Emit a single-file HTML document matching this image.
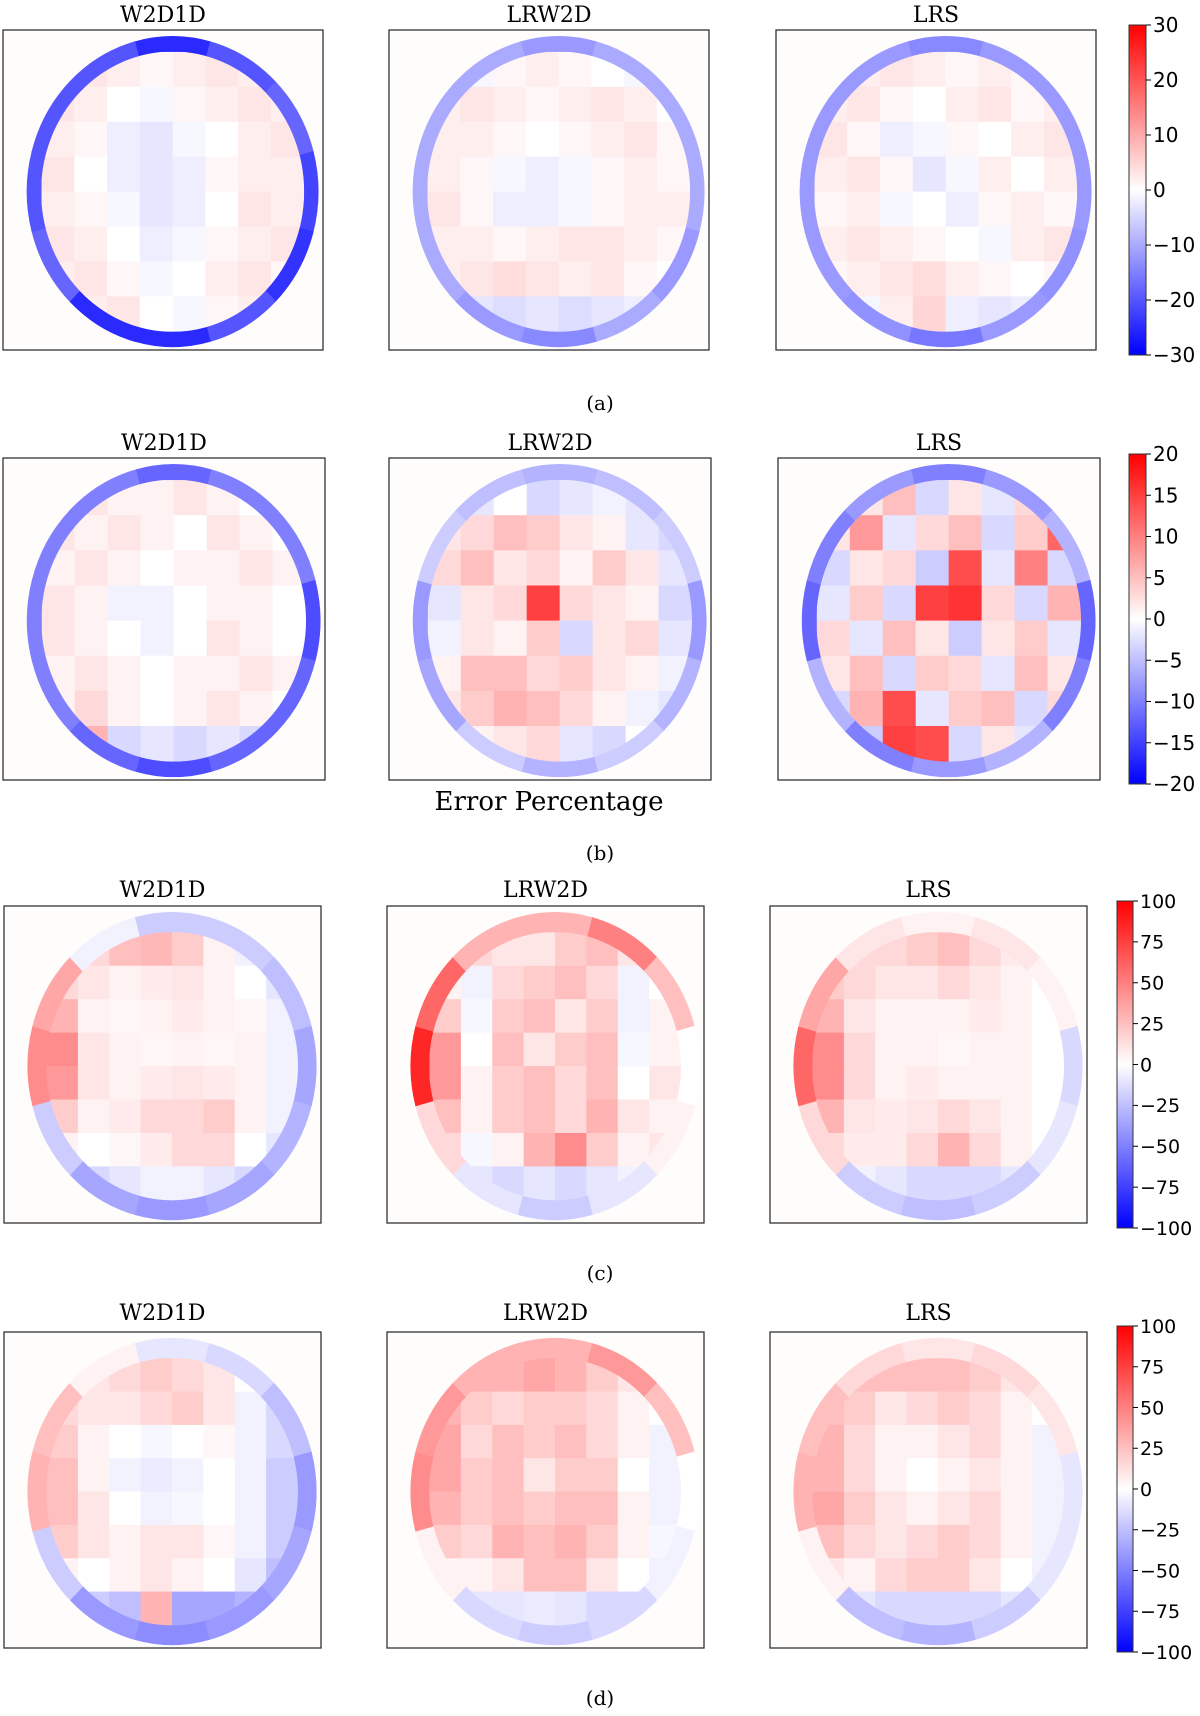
<!DOCTYPE html>
<html><head><meta charset="utf-8"><style>
html,body{margin:0;padding:0;background:#fff;}
svg{display:block;}
.t{font-family:"DejaVu Serif","Liberation Serif",serif;fill:#000;}
.k{font-family:"DejaVu Sans","Liberation Sans",sans-serif;fill:#000;}
</style></head><body>
<svg id="fig" width="1200" height="1716" viewBox="0 0 1200 1716" xmlns="http://www.w3.org/2000/svg"></svg>
<script>
// ---- data (values in % error). rim: 12 angles clockwise from top; interior: 8x8 grid ----
const titles = ["W2D1D","LRW2D","LRS"];
const rowLimits = [30,20,100,100];
const tickA = [30,20,10,0,-10,-20,-30];
const tickB = [20,15,10,5,0,-5,-10,-15,-20];
const tickC = [100,75,50,25,0,-25,-50,-75,-100];
const tickD = [100,75,50,25,0,-25,-50,-75,-100];
const captions = ["(a)","(b)","(c)","(d)"];

const rimA1 = [-25,-20,-18,-22,-24,-20,-25,-25,-18,-20,-20,-20];
const gridA1 = [[2,3,2,1,2,3,2,1],[3,2,0,-1,1,2,3,2],[2,1,-2,-3,-1,0,2,3],[3,0,-2,-3,-2,1,2,2],[2,1,-1,-3,-2,0,3,2],[3,2,0,-2,-1,1,2,3],[2,3,1,-1,0,2,3,1],[1,2,3,0,-1,1,2,0]];
const rimA2 = [-12,-10,-10,-10,-12,-10,-14,-12,-10,-10,-10,-10];
const gridA2 = [[0,-1,1,2,1,0,-1,-2],[2,3,2,1,2,3,2,0],[2,2,1,0,1,2,3,1],[2,1,-1,-2,-1,1,2,1],[3,1,-2,-2,-1,1,2,2],[2,2,1,2,3,3,2,1],[2,3,4,3,2,3,1,0],[-2,-3,-4,-3,-4,-3,-2,-3]];
const rimA3 = [-14,-12,-12,-12,-13,-12,-16,-13,-12,-12,-12,-12];
const gridA3 = [[1,2,3,2,1,2,1,0],[2,3,1,0,2,3,1,2],[3,1,-2,-1,1,0,2,3],[2,3,1,-3,-1,2,0,2],[1,2,-1,0,-2,1,2,1],[2,3,2,1,0,-1,2,3],[1,2,3,4,2,1,0,1],[-2,-1,2,5,-2,-3,-2,-4]];

const rimB1 = [-12,-10,-10,-14,-12,-12,-14,-12,-10,-10,-10,-10];
const gridB1 = [[1,2,1,1,2,1,0,-1],[2,1,2,1,0,2,1,0],[1,2,1,0,1,1,2,1],[2,1,-1,-1,0,1,1,0],[2,1,0,-1,0,2,1,0],[1,2,1,0,1,1,2,1],[1,3,1,0,1,2,1,0],[-2,6,-3,-2,-3,-2,-3,-3]];
const rimB2 = [-6,-5,-4,-8,-6,-4,-6,-4,-7,-8,-4,-5];
const gridB2 = [[-3,-2,0,-3,-2,-1,-2,-4],[2,3,5,4,2,1,-2,-3],[3,5,2,3,1,4,2,-2],[-2,2,3,15,3,2,1,-3],[-1,2,1,4,-3,2,3,-2],[1,5,5,3,4,2,1,-1],[2,4,6,5,3,1,-1,-2],[-2,1,2,3,-2,-3,0,-2]];
const rimB3 = [-10,-8,-6,-12,-10,-6,-8,-10,-6,-12,-10,-8];
const gridB3 = [[-4,2,5,-3,2,-2,3,-5],[2,8,-2,3,5,-3,4,12],[-3,2,3,-4,14,-2,10,-3],[-2,4,-3,15,16,3,-3,6],[3,-2,5,2,-4,2,4,-2],[2,5,-3,4,3,-2,5,2],[-3,6,14,-2,4,5,-3,3],[2,-4,15,14,-3,2,-2,-4]];

const rimC1 = [-20,-20,-25,-35,-30,-35,-40,-35,-20,45,35,-5];
const gridC1 = [[5,15,25,28,20,5,-5,-10],[15,10,5,8,10,5,0,-10],[30,5,3,5,8,5,3,-5],[45,10,5,3,5,3,5,-5],[40,10,5,8,10,8,5,-5],[20,5,8,15,15,20,5,-5],[5,0,3,8,15,15,0,-10],[-10,-15,-10,-5,-5,-10,-15,-20]];
const rimC2 = [30,50,25,0,5,-10,-20,-10,15,85,60,30];
const gridC2 = [[10,15,10,10,20,25,10,0],[5,-5,15,20,25,15,-5,0],[20,-3,20,25,10,20,-5,5],[40,0,25,10,20,25,-3,5],[40,5,20,25,15,25,0,10],[25,5,20,25,15,30,10,5],[15,-3,5,30,45,20,5,10],[0,-10,-15,-10,-15,-10,-5,0]];
const rimC3 = [5,10,5,-15,-10,-20,-25,-20,15,60,35,10];
const gridC3 = [[10,15,15,20,25,15,8,0],[20,15,10,10,15,10,5,0],[30,10,5,5,5,8,5,0],[45,15,5,5,3,5,5,0],[45,15,5,8,5,5,5,0],[30,10,8,10,15,10,5,0],[15,8,8,15,30,15,5,0],[0,-5,-10,-15,-15,-15,-10,-5]];

const rimD1 = [-10,-15,-25,-40,-35,-40,-45,-40,-20,30,25,5];
const gridD1 = [[5,10,15,20,15,10,0,-10],[15,10,10,15,20,10,-5,-15],[20,5,0,-3,0,3,-5,-15],[25,5,-5,-8,-5,0,-5,-20],[25,10,0,-5,-3,0,-5,-20],[20,10,5,10,10,3,-5,-20],[5,0,5,10,5,0,-10,-25],[-15,-20,-25,30,-35,-35,-30,-30]];
const rimD2 = [30,40,25,0,-5,-15,-20,-15,5,45,40,30];
const gridD2 = [[25,30,30,35,30,20,10,5],[30,20,15,20,20,15,5,0],[35,15,25,20,25,15,5,-5],[35,20,25,10,20,20,0,-5],[30,20,25,20,25,25,5,-5],[20,15,30,25,30,20,5,-3],[5,5,10,25,25,10,0,-5],[-5,-10,-10,-8,-10,-15,-15,-10]];
const rimD3 = [10,15,10,-10,-10,-20,-30,-25,5,30,25,15];
const gridD3 = [[20,25,25,25,25,20,10,5],[25,20,10,15,20,15,5,0],[30,15,5,5,10,15,5,-5],[30,15,5,0,5,10,5,-5],[35,20,10,5,10,15,5,-5],[25,15,10,15,20,15,5,-5],[10,5,15,20,20,10,0,-5],[-5,-10,-15,-15,-15,-15,-10,-5]];

const rims = [[rimA1,rimA2,rimA3],[rimB1,rimB2,rimB3],[rimC1,rimC2,rimC3],[rimD1,rimD2,rimD3]];
const grids = [[gridA1,gridA2,gridA3],[gridB1,gridB2,gridB3],[gridC1,gridC2,gridC3],[gridD1,gridD2,gridD3]];
const ticks = [tickA,tickB,tickC,tickD];

// ---- layout ----
const NS="http://www.w3.org/2000/svg";
const svg=document.getElementById('fig');
const rowsLayout=[
 {y:30,h:320,xs:[3,389,776],w:320,cb:{x:1129,w:17,y:25,h:330},fs:20,ty:22,cap:410},
 {y:458,h:322,xs:[3,389,778],w:322,cb:{x:1129,w:17,y:454,h:330},fs:20,ty:450,cap:860},
 {y:906,h:317,xs:[4,387,770],w:317,cb:{x:1117,w:16,y:901,h:327},fs:19,ty:897,cap:1280},
 {y:1332,h:316,xs:[4,387,770],w:317,cb:{x:1117,w:16,y:1326,h:326},fs:19,ty:1320,cap:1705}
];
function el(tag,attrs,parent){const e=document.createElementNS(NS,tag);for(const k in attrs)e.setAttribute(k,attrs[k]);(parent||svg).appendChild(e);return e;}
function bwr(v,lim){let t=Math.max(-1,Math.min(1,v/lim));let r,g,b;
 if(t<0){r=g=Math.round(255*(1+t));b=255;}else{r=255;g=b=Math.round(255*(1-t));}
 return `rgb(${r},${g},${b})`;}

rowsLayout.forEach((L,ri)=>{
 const lim=rowLimits[ri];
 const ringFrac = ri<2?0.1:0.13;
 L.xs.forEach((bx,ci)=>{
  const g=el('g',{});
  
  
  const bg=el('rect',{x:bx,y:L.y,width:L.w,height:L.h,fill:'#fffcfc'},g);
  
  
  const cx=bx+L.w*0.53, cy=L.y+L.h*0.505, rx=L.w*0.455, ry=L.h*0.485;
  const irx=rx*(1-ringFrac), iry=ry*(1-ringFrac);
  const rim=rims[ri][ci];
  const n=rim.length;
  rim.forEach((v,i)=>{
   const a0=(i-0.5)*2*Math.PI/n, a1=(i+0.5)*2*Math.PI/n;
   const P=(a,sx,sy)=>[cx+sx*Math.sin(a),cy-sy*Math.cos(a)];
   const p1=P(a0,rx,ry),p2=P(a1,rx,ry),p3=P(a1,irx,iry),p4=P(a0,irx,iry);
   const w=el('path',{d:`M${p1}A${rx},${ry} 0 0 1 ${p2}L${p3}A${irx},${iry} 0 0 0 ${p4}Z`,fill:bwr(v,lim),stroke:bwr(v,lim),'stroke-width':0.6},g);
   
   
  });
  const cid='clip'+ri+ci;
  const cp=el('clipPath',{id:cid},g);
  el('ellipse',{cx:cx,cy:cy,rx:irx+0.5,ry:iry+0.5},cp);
  const gi=el('g',{'clip-path':`url(#${cid})`},g);
  const grid=grids[ri][ci];
  const nr=grid.length,nc=grid[0].length;
  const cw=2*irx/nc, ch=2*iry/nr;
  grid.forEach((row,r)=>row.forEach((v,c)=>{
   const cell=el('rect',{x:cx-irx+c*cw,y:cy-iry+r*ch,width:cw+0.6,height:ch+0.6,fill:bwr(v,lim)},gi);
   
   
  }));
  const fr=el('rect',{x:bx,y:L.y,width:L.w,height:L.h,fill:'none',stroke:'#333','stroke-width':1.3},g);
  
  
  const tt=el('text',{x:bx+L.w/2,y:L.ty,'text-anchor':'middle','font-size':22,class:'t'},svg);
  tt.textContent=titles[ci];
  
  
 });
 const cb=L.cb;
 const gid='grad'+ri;
 const defs=el('defs',{});
 const lg=el('linearGradient',{id:gid,x1:0,y1:0,x2:0,y2:1},defs);
 el('stop',{offset:'0','stop-color':'rgb(255,0,0)'},lg);
 el('stop',{offset:'0.5','stop-color':'rgb(255,255,255)'},lg);
 el('stop',{offset:'1','stop-color':'rgb(0,0,255)'},lg);
 const bar=el('rect',{x:cb.x,y:cb.y,width:cb.w,height:cb.h,fill:`url(#${gid})`,stroke:'#333','stroke-width':1});
 
 
 const tk=ticks[ri];
 tk.forEach(v=>{
  const y=cb.y+(lim-v)/(2*lim)*cb.h;
  el('line',{x1:cb.x+cb.w,x2:cb.x+cb.w+5,y1:y,y2:y,stroke:'#000','stroke-width':1});
  const t=el('text',{x:cb.x+cb.w+7,y:y+L.fs*0.36,'font-size':L.fs,class:'k'});
  t.textContent=(v<0?'\u2212'+(-v):String(v));
  
  
 });
 const cap=el('text',{x:600,y:L.cap,'text-anchor':'middle','font-size':20,class:'t'});
 cap.textContent=captions[ri];
 
 
});
const xl=el('text',{x:549,y:810,'text-anchor':'middle','font-size':26,class:'t'});
xl.textContent='Error Percentage';


</script>
</body></html>
